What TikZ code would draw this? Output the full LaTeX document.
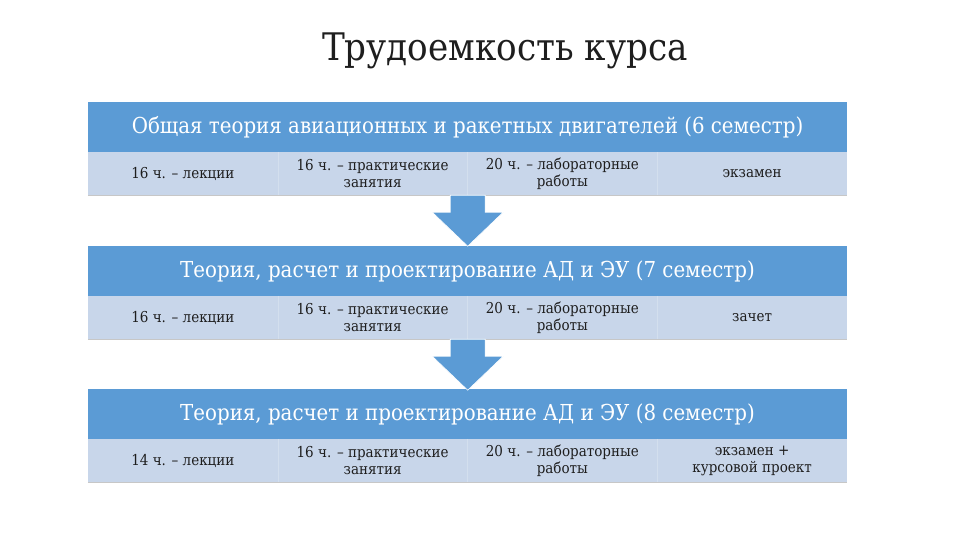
\documentclass[tikz,border=0pt]{standalone}
\usepackage{fontspec}
\usetikzlibrary{calc}
\setmainfont[FakeStretch=0.9]{DejaVu Serif}
\definecolor{hdr}{HTML}{5B9BD5}
\definecolor{subc}{HTML}{C8D6EA}
\definecolor{sepc}{HTML}{D3DFEE}
\definecolor{txt}{HTML}{1E1E1E}
\begin{document}
\begin{tikzpicture}[x=1pt,y=-1pt,
  hdrbox/.style={fill=hdr,draw=none,minimum width=759pt,minimum height=50pt,inner sep=0pt,text=white,font=\fontsize{22}{26}\selectfont},
  subbox/.style={fill=subc,draw=none,minimum width=189.75pt,minimum height=43pt,inner sep=0pt,text=txt,align=center,font=\fontsize{15}{17}\selectfont},
  flowarrow/.style={fill=hdr,draw=white,line width=0.6pt}]
\useasboundingbox (0,0) rectangle (960,540);
\fill[white] (0,0) rectangle (960,540);
\node[text=txt,font=\fontsize{38}{42}\selectfont] (title) at (505,51) {Трудоемкость курса};
% band 1
\node[hdrbox] (h1) at (467.5,127) {Общая теория авиационных и ракетных двигателей (6 семестр)};
\node[subbox] (a1) at (182.875,173.5) {16 ч. – лекции};
\node[subbox] (b1) at (372.625,173.5) {16 ч. – практические\\занятия};
\node[subbox] (c1) at (562.375,173.5) {20 ч. – лабораторные\\работы};
\node[subbox] (d1) at (752.125,173.5) {экзамен};
% band 2
\node[hdrbox] (h2) at (467.5,271) {Теория, расчет и проектирование АД и ЭУ (7 семестр)};
\node[subbox] (a2) at (182.875,317.5) {16 ч. – лекции};
\node[subbox] (b2) at (372.625,317.5) {16 ч. – практические\\занятия};
\node[subbox] (c2) at (562.375,317.5) {20 ч. – лабораторные\\работы};
\node[subbox] (d2) at (752.125,317.5) {зачет};
% band 3
\node[hdrbox] (h3) at (467.5,414) {Теория, расчет и проектирование АД и ЭУ (8 семестр)};
\node[subbox] (a3) at (182.875,460.5) {14 ч. – лекции};
\node[subbox] (b3) at (372.625,460.5) {16 ч. – практические\\занятия};
\node[subbox] (c3) at (562.375,460.5) {20 ч. – лабораторные\\работы};
\node[subbox] (d3) at (752.125,460.5) {экзамен +\\курсовой проект};
% separators and bottom edges
\foreach \r in {1,2,3}{
  \draw[sepc,line width=0.8pt] (a\r.north east) -- (a\r.south east);
  \draw[sepc,line width=0.8pt] (b\r.north east) -- (b\r.south east);
  \draw[sepc,line width=0.8pt] (c\r.north east) -- (c\r.south east);
  \draw[black!22,line width=0.6pt] (a\r.south west) -- (d\r.south east);
}
% arrows
\foreach \r in {1,2}{
\draw[flowarrow] ($(b\r.south east)+(-17.5,0)$) -- ++(0,17) -- ++(-18,0)
  -- ($(b\r.south east)+(0,51)$) -- ($(b\r.south east)+(35.5,17)$) -- ++(-18,0)
  -- ($(b\r.south east)+(17.5,0)$) -- cycle;
}
\end{tikzpicture}
\end{document}
